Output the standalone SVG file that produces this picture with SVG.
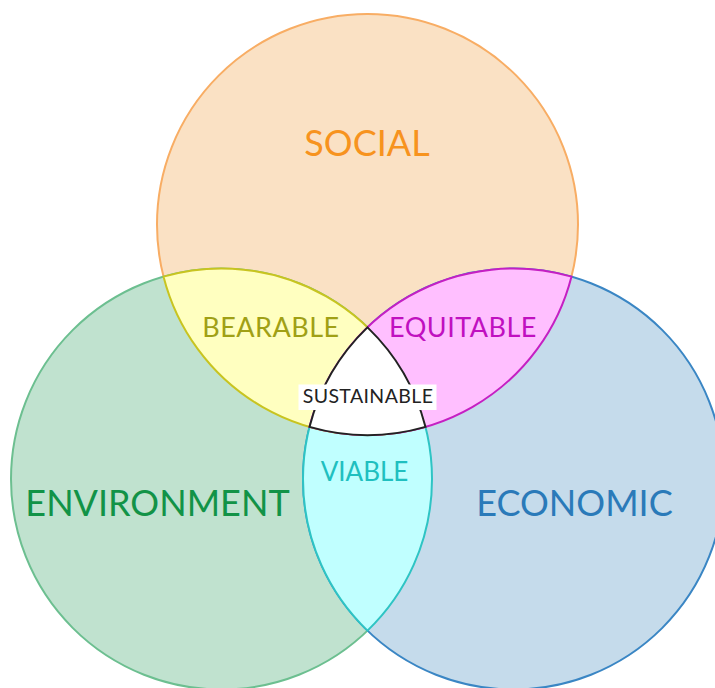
<svg xmlns="http://www.w3.org/2000/svg" width="715" height="688" viewBox="0 0 715 688">
<style>
text{font-family:Lato,"Liberation Sans",sans-serif;text-anchor:middle}
.big{font-size:36px}
.mid{font-size:27px;letter-spacing:0.5px}
.circle{stroke-width:2}
.lens{stroke-width:2}
</style>
<rect width="715" height="688" fill="#ffffff"/>
<g id="social"><circle class="circle" cx="367.5" cy="224.5" r="210.5" fill="#fae1c4" stroke="#f8ad64"/></g>
<g id="environment"><circle class="circle" cx="221.5" cy="479" r="210.5" fill="#c0e2cf" stroke="#6cbf90"/></g>
<g id="economic"><circle class="circle" cx="513.5" cy="479" r="210.5" fill="#c5dbeb" stroke="#3a86c4"/></g>
<g id="viable"><path class="lens" d="M367.5 327.36 A210.5 210.5 0 0 1 367.5 630.64 A210.5 210.5 0 0 1 367.5 327.36 Z" fill="#c0ffff" stroke="#2ec4c4"/></g>
<g id="bearable"><path class="lens" d="M163.55 276.63 A210.5 210.5 0 0 1 425.45 426.87 A210.5 210.5 0 0 1 163.55 276.63 Z" fill="#ffffc0" stroke="#c8c420"/></g>
<g id="equitable"><path class="lens" d="M571.45 276.63 A210.5 210.5 0 0 0 309.55 426.87 A210.5 210.5 0 0 0 571.45 276.63 Z" fill="#ffbfff" stroke="#c51fc3"/></g>
<g id="sustainable"><path d="M367.5 327.36 A210.5 210.5 0 0 0 309.55 426.87 A210.5 210.5 0 0 0 425.45 426.87 A210.5 210.5 0 0 0 367.5 327.36 Z" fill="#ffffff" stroke="#222222" stroke-width="2"/>
<rect x="298.5" y="384.5" width="138" height="25.5" fill="#ffffff"/>
<text x="368" y="403.3" font-size="19.5" letter-spacing="0.4" fill="#222222">SUSTAINABLE</text></g>
<g id="labels">
<text class="big" x="367" y="155.5" fill="#f7931e">SOCIAL</text>
<text class="big" x="157.5" y="515.5" fill="#129347">ENVIRONMENT</text>
<text class="big" x="574.5" y="515.5" fill="#2a7ab9">ECONOMIC</text>
<text class="mid" x="271" y="337.3" fill="#a0a015">BEARABLE</text>
<text class="mid" x="463" y="337.3" fill="#c010c0">EQUITABLE</text>
<text x="364.5" y="480.5" font-size="26" fill="#20bfbf">VIABLE</text>
</g>
</svg>
